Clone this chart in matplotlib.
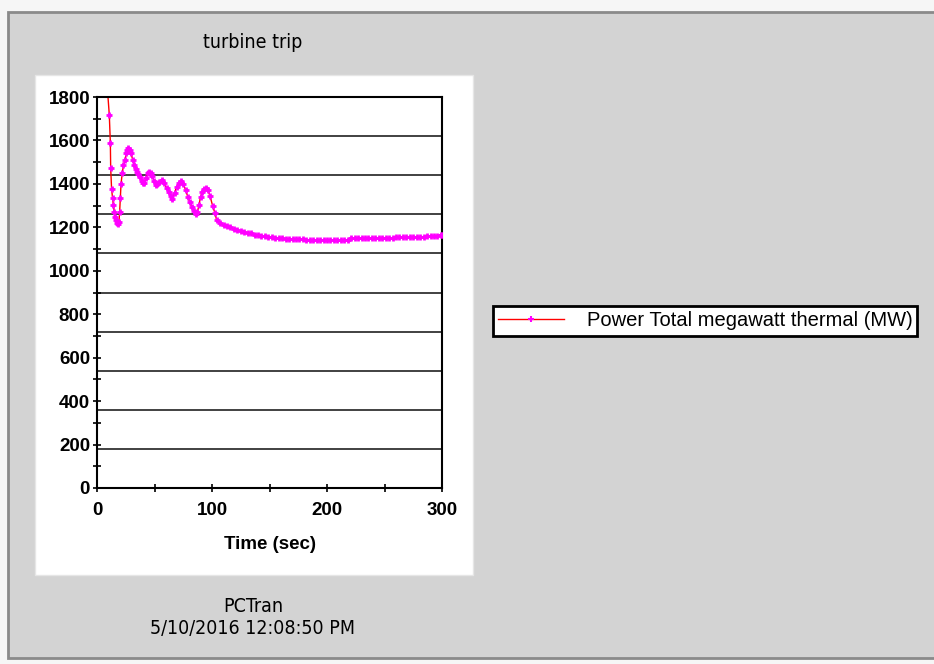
import matplotlib
matplotlib.use("Agg")
import matplotlib.pyplot as plt
from matplotlib.patches import Rectangle

# power trace after turbine trip
time_s = [9, 10.7, 11.6, 11.9, 12.7, 13.5, 14.2, 15.0, 15.6, 16.3,
          17.1, 18.0, 19.1, 19.7, 20.3, 20.9, 22.0, 23.0, 24.3, 25.5,
          26.5, 27.2, 28.3, 29.6, 31.0, 32.4, 33.5, 34.5, 36.0, 37.4,
          39.0, 40.0, 41.1, 42.5, 44.0, 45.5, 47.0, 48.1, 49.5, 51.0,
          52.5, 54.0, 56.2, 58.5, 60.6, 62.5, 64.0, 65.5, 67.5, 69.3,
          71.0, 73.0, 75.0, 77.1, 79.0, 80.5, 82.3, 84.0, 85.8, 87.3,
          88.7, 90.0, 91.6, 93.0, 94.8, 96.5, 98.3, 100.5, 102.6, 104,
          107, 110, 113, 116, 119, 122, 125, 128, 131, 134,
          137, 140, 143, 146, 149, 152, 155, 158, 161, 164,
          167, 170, 173, 176, 179, 182, 185, 188, 191, 194,
          197, 200, 203, 206, 209, 212, 215, 218, 221, 224,
          227, 230, 233, 236, 239, 242, 245, 248, 251, 254,
          257, 260, 263, 266, 269, 272, 275, 278, 281, 284,
          287, 290, 293, 296, 299, 300]
power_mw = [1840, 1717, 1590, 1472, 1375, 1335, 1303, 1270, 1249, 1232,
            1219, 1215, 1226, 1272, 1335, 1400, 1452, 1485, 1510, 1540,
            1555, 1564, 1555, 1541, 1512, 1487, 1468, 1456, 1445, 1433,
            1415, 1405, 1403, 1425, 1448, 1456, 1450, 1436, 1415, 1395,
            1400, 1410, 1418, 1402, 1380, 1362, 1345, 1329, 1360, 1387,
            1405, 1415, 1400, 1372, 1340, 1318, 1295, 1275, 1261, 1270,
            1303, 1340, 1364, 1375, 1380, 1370, 1344, 1300, 1265, 1234,
            1222, 1210, 1206, 1200, 1192, 1188, 1184, 1180, 1175, 1172,
            1167, 1164, 1160, 1158, 1157, 1154, 1152, 1150, 1149, 1148,
            1147, 1146, 1146, 1145, 1145, 1143, 1142, 1141, 1141, 1141,
            1141, 1141, 1141, 1141, 1141, 1141, 1141, 1142, 1149, 1150,
            1150, 1150, 1150, 1150, 1150, 1150, 1150, 1150, 1151, 1151,
            1151, 1156, 1157, 1157, 1157, 1157, 1157, 1157, 1157, 1157,
            1158, 1159, 1161, 1162, 1164, 1165]

grid_levels = [180, 360, 540, 720, 900, 1080, 1260, 1440, 1620]
y_ticks = [0, 200, 400, 600, 800, 1000, 1200, 1400, 1600, 1800]
x_ticks = [0, 100, 200, 300]
series_name = "Power Total megawatt thermal (MW)"

W, H = 934, 664

fig = plt.figure(figsize=(W / 100, H / 100), dpi=100, facecolor="#f6f6f6")

# window frame + grey background
fig.patches.append(Rectangle((8 / W, 1 - 658 / H), 930 / W, 646 / H, transform=fig.transFigure,
                             facecolor="#d3d3d3", edgecolor="#8a8a8a", lw=2, zorder=0))
# white plot panel
fig.patches.append(Rectangle((35 / W, 1 - 575 / H), 438 / W, 500 / H, transform=fig.transFigure,
                             facecolor="white", edgecolor="#e6e6e6", lw=1, zorder=1))

ax = fig.add_axes([97 / W, 1 - 488 / H, 345 / W, 391 / H])
ax.set_zorder(3)
ax.set_facecolor("white")
ax.hlines(grid_levels, 0, 300, colors="#333333", lw=1.3, zorder=1)
ax.plot(time_s, power_mw, color="red", lw=1, zorder=2)
ax.plot(time_s, power_mw, ls="none", marker="+", ms=5, mew=2, color="#ff00ff", zorder=3)
ax.set_xlim(0, 300)
ax.set_ylim(0, 1800)
ax.set_xticks(x_ticks)
ax.set_xticks([50, 150, 250], minor=True)
ax.set_yticks(y_ticks)
ax.set_yticks([100, 300, 500, 700, 900, 1100, 1300, 1500, 1700], minor=True)
ax.tick_params(which="both", direction="inout", length=6, width=1.2, color="black",
               labelsize=13.5)
ax.tick_params(axis="x", pad=7)
ax.tick_params(axis="y", pad=2)
for lbl in ax.get_xticklabels() + ax.get_yticklabels():
    lbl.set_fontweight("bold")
    lbl.set_family("Liberation Sans")
for sp in ax.spines.values():
    sp.set_linewidth(1.5)
    sp.set_color("black")
ax.set_xlabel("Time (sec)", fontsize=13.5, fontweight="bold", family="Liberation Sans", labelpad=12)

txt = dict(ha="center", va="center", fontsize=14, family="DejaVu Sans", fontstretch="condensed")
fig.text(253 / W, 1 - 43 / H, "turbine trip", **txt)
fig.text(253 / W, 1 - 607 / H, "PCTran", **txt)
fig.text(253 / W, 1 - 629 / H, "5/10/2016 12:08:50 PM", **txt)

handle = plt.Line2D([], [], color="red", lw=1, marker="+", ms=4, mew=1.5, mfc="#ff00ff", mec="#ff00ff")
leg = fig.legend([handle], [series_name], loc="center left", bbox_to_anchor=(493 / W, 1 - 321 / H),
                 numpoints=1, frameon=True, fancybox=False, framealpha=1,
                 edgecolor="black", borderpad=0.25, handlelength=3.3, handletextpad=1.1,
                 borderaxespad=0, prop={"family": "Liberation Sans", "size": 14.5})
leg.get_frame().set_linewidth(2)

fig.savefig("out.png", dpi=100, facecolor=fig.get_facecolor())
